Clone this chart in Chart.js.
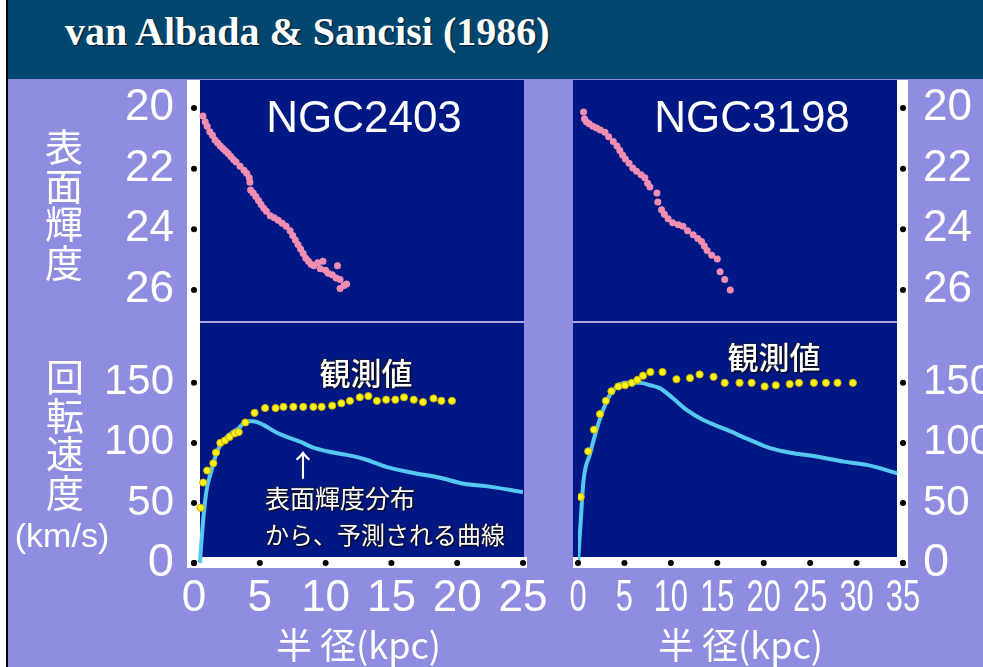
<!DOCTYPE html>
<html>
<head>
<meta charset="utf-8">
<script src="https://cdn.jsdelivr.net/npm/chart.js@4"></script>
<style>
  body { margin: 0; width: 983px; height: 667px; background: #8f8ddf; position: relative; overflow: hidden; color: #fff; }
  #titlebar { position: absolute; left: 0; top: 0; width: 983px; height: 79px; background: #00466e; }
  #titlebar span { position: absolute; left: 65px; top: 8px; font: bold 40px 'Liberation Serif', serif; white-space: nowrap; text-shadow: 1px 1px 1px #001a30; }
  #margin { position: absolute; left: 0; top: 0; width: 6px; height: 667px; background: #fff; }
  #edge { position: absolute; left: 6px; top: 0; width: 2px; height: 667px; background: #000; }
  canvas { position: absolute; left: 0; top: 0; }
  .t { position: absolute; transform: translate(-50%, -50%); white-space: nowrap; line-height: 1; }
  .v { position: absolute; transform: translateX(-50%); text-align: center; font: 38px 'Noto Sans CJK JP', sans-serif; line-height: 38.5px; }
  .jp { font-family: 'Noto Sans CJK JP', sans-serif; }
  .note { text-shadow: 1px 1px 2px #000, -1px -1px 1px #223; }
</style>
</head>
<body>
<div id="titlebar"><span>van Albada &amp; Sancisi (1986)</span></div>
<div id="margin"></div>
<div id="edge"></div>
<canvas id="lt" width="983" height="667"></canvas>
<canvas id="lb" width="983" height="667"></canvas>
<canvas id="rt" width="983" height="667"></canvas>
<canvas id="rb" width="983" height="667"></canvas>

<div class="v" style="left:64px; top:126px;">表<br>面<br>輝<br>度</div>
<div class="v" style="left:65px; top:356px;">回<br>転<br>速<br>度</div>
<div class="t" style="left:62px; top:535px; font:34px 'Liberation Sans', sans-serif;">(km/s)</div>
<div class="t" style="left:364px; top:117px; font:44px 'Liberation Sans', sans-serif;">NGC2403</div>
<div class="t" style="left:752px; top:117px; font:44px 'Liberation Sans', sans-serif;">NGC3198</div>
<div class="t jp note" style="left:366px; top:371px; font-size:31px; font-weight:500;">観測値</div>
<div class="t jp note" style="left:774px; top:355px; font-size:31px; font-weight:500;">観測値</div>
<div class="t jp" style="left:303px; top:463px; font-size:30px;">↑</div>
<div class="jp note" style="position:absolute; left:265px; top:482px; font-size:25px; line-height:30px; white-space:nowrap;">表面輝度分布</div>
<div class="jp note" style="position:absolute; left:265px; top:519px; font-size:24px; line-height:30px; white-space:nowrap;">から、予測される曲線</div>

<script>
// ---- data ----
const sbTicks = [20, 22, 24, 26];
const vTicks = [0, 50, 100, 150];
const rTicks2403 = [0, 5, 10, 15, 20, 25];
const rTicks3198 = [0, 5, 10, 15, 20, 25, 30, 35];

// NGC2403 surface brightness (mag/arcsec^2) vs radius (kpc)
const sb2403R = [0.68, 0.85, 1.0, 1.2, 1.4, 1.6, 1.8, 2.0, 2.2, 2.4, 2.6, 2.8, 3.0, 3.2, 3.5, 3.8, 4.0, 4.2, 4.25, 4.3, 4.5, 4.7, 4.9, 5.1, 5.3, 5.5, 5.8, 6.1, 6.4, 6.7, 7.0, 7.3, 7.5, 7.7, 7.9, 8.1, 8.3, 8.5, 8.7, 8.9, 9.1, 9.4, 9.6, 9.8, 10.0, 10.2, 10.5, 10.8, 10.9, 11.1, 11.1, 11.4, 11.6];
const sb2403Mu = [20.26, 20.45, 20.6, 20.78, 20.9, 21.05, 21.15, 21.25, 21.33, 21.42, 21.5, 21.6, 21.7, 21.78, 21.92, 22.05, 22.15, 22.3, 22.45, 22.7, 22.8, 22.92, 23.05, 23.18, 23.3, 23.4, 23.55, 23.62, 23.7, 23.8, 23.9, 24.05, 24.2, 24.35, 24.5, 24.65, 24.8, 24.95, 25.05, 25.15, 25.2, 25.1, 25.3, 25.05, 25.35, 25.45, 25.5, 25.6, 25.2, 25.65, 25.95, 25.85, 25.8];

// NGC3198 surface brightness
const sb3198R = [0.6, 0.7, 0.9, 1.2, 1.6, 2.0, 2.4, 2.9, 3.3, 3.8, 4.2, 4.5, 4.8, 5.1, 5.5, 5.9, 6.3, 6.8, 7.2, 7.5, 7.75, 8.5, 8.6, 9.0, 9.3, 9.7, 10.2, 10.8, 11.3, 11.8, 12.4, 12.9, 13.3, 13.6, 13.9, 14.4, 15.0, 15.3, 15.8, 16.4];
const sb3198Mu = [20.13, 20.35, 20.45, 20.52, 20.6, 20.66, 20.72, 20.8, 20.95, 21.1, 21.25, 21.4, 21.55, 21.68, 21.82, 21.98, 22.08, 22.2, 22.3, 22.48, 22.6, 22.8, 23.1, 23.35, 23.5, 23.65, 23.78, 23.85, 23.9, 24.05, 24.18, 24.3, 24.4, 24.55, 24.7, 24.85, 24.98, 25.4, 25.65, 26.0];

// NGC2403 rotation: observed (yellow) and predicted from light (cyan)
const obs2403R = [0.5, 0.7, 1.0, 1.47, 1.67, 2.0, 2.35, 2.7, 3.1, 3.4, 3.9, 4.6, 5.4, 6.2, 6.8, 7.55, 8.3, 9.07, 9.7, 10.5, 11.2, 11.85, 12.6, 13.25, 13.9, 14.6, 15.3, 15.96, 16.7, 17.4, 18.2, 18.8, 19.6];
const obs2403V = [46, 67, 77, 83, 92, 100, 102, 105, 108, 109, 117, 125, 129, 129, 130, 130, 130, 130, 130, 131, 133, 135, 138, 139, 135, 136, 136, 138, 136, 134, 137, 135, 135];
const mod2403R = [0.45, 0.5, 0.7, 0.96, 1.34, 1.7, 2.1, 2.7, 3.37, 4.0, 4.5, 5.27, 6.2, 7.05, 8.05, 9.07, 10.1, 11.6, 13.1, 14.6, 16.7, 18.7, 20.5, 22.2, 25.0];
const mod2403V = [0, 8, 36, 61, 77.5, 91, 100, 107, 112, 118, 118, 115, 109, 105, 101, 96, 93, 90, 86, 80, 75, 71, 66, 64, 59];

// NGC3198 rotation
const obs3198R = [0.29, 1.1, 1.72, 2.37, 3.0, 3.6, 4.34, 5.06, 5.8, 6.4, 7.0, 7.8, 9.1, 10.6, 12.06, 13.1, 14.6, 15.8, 17.4, 18.7, 20.1, 21.3, 22.8, 23.8, 25.4, 26.7, 27.95, 29.6];
const obs3198V = [55, 93, 111, 124, 135, 143, 147, 148, 150, 152.5, 156, 159, 159, 153, 154, 157, 155, 150, 150, 150, 147, 148, 149, 150, 150, 150, 150, 150];
const mod3198R = [0, 0.3, 0.6, 1.3, 2.0, 2.7, 3.44, 4.2, 5.2, 6.67, 7.75, 8.8, 10.26, 11.7, 13.5, 16.0, 18.5, 20.7, 23.2, 25.7, 28.6, 31.1, 34.4];
const mod3198V = [0, 36, 69, 91, 111, 127.5, 140, 147, 150, 150, 148, 145.6, 137, 127.5, 119, 111, 102.5, 95.6, 91.4, 88.6, 84.4, 81.7, 74.7];

// ---- styling ----
const NAVY = '#011884';
const WHITE = '#ffffff';
const SEP = '#a9a6df';
const PINK = '#f28db2';
const YELLOW = '#fff21a';
const CYAN = '#55c8f0';
const FONT = "'Liberation Sans', sans-serif";

// linear scale whose tick labels are squeezed sideways (the NGC3198 radius axis
// uses a condensed face in the original)
class NarrowLinearScale extends Chart.LinearScale {
  drawLabels(chartArea) {
    const squeeze = this.options.ticks.squeeze || 1;
    const ctx = this.ctx;
    this.getLabelItems(chartArea).forEach(item => {
      const o = item.options;
      ctx.save();
      ctx.translate(o.translation[0], o.translation[1]);
      ctx.scale(squeeze, 1);
      ctx.font = item.font.string;
      ctx.fillStyle = o.color;
      ctx.textAlign = o.textAlign;
      ctx.textBaseline = o.textBaseline;
      ctx.fillText(item.label, 0, item.textOffset);
      ctx.restore();
    });
  }
}
NarrowLinearScale.id = 'narrowLinear';
NarrowLinearScale.defaults = Chart.LinearScale.defaults;
Chart.register(NarrowLinearScale);

const toXY = (xs, ys) => xs.map((x, i) => ({ x: x, y: ys[i] }));

const panelPlugin = {
  id: 'panel',
  beforeDraw(chart, args, opts) {
    const ctx = chart.ctx;
    ctx.save();
    (opts.rects || []).forEach(r => {
      ctx.fillStyle = r[4];
      ctx.fillRect(r[0], r[1], r[2] - r[0], r[3] - r[1]);
    });
    ctx.restore();
  },
  afterDraw(chart, args, opts) {
    const ctx = chart.ctx;
    ctx.save();
    ctx.fillStyle = '#000';
    const dot = (x, y) => { ctx.beginPath(); ctx.arc(x, y, 3, 0, Math.PI * 2); ctx.fill(); };
    if (opts.yDotX != null) {
      const ys = chart.scales.y;
      ys.ticks.forEach(t => dot(opts.yDotX, ys.getPixelForValue(t.value)));
    }
    if (opts.xDotY != null) {
      const xs = chart.scales.x;
      xs.ticks.forEach(t => dot(xs.getPixelForValue(t.value), opts.xDotY));
    }
    ctx.restore();
  }
};

const setTicks = vals => scale => { scale.ticks = vals.map(v => ({ value: v })); };

function sbChart(id, pts, rMax, side, pad, rects, dotX) {
  return new Chart(document.getElementById(id), {
    type: 'line',
    data: {
      datasets: [{
        data: pts, showLine: false, pointRadius: 3.5, pointBorderWidth: 0,
        pointBackgroundColor: PINK
      }]
    },
    options: {
      responsive: false, animation: false, events: [],
      layout: { padding: pad, autoPadding: false },
      plugins: { legend: { display: false }, tooltip: { enabled: false }, panel: { rects: rects, yDotX: dotX } },
      scales: {
        x: { type: 'linear', min: 0, max: rMax, display: false },
        y: {
          type: 'linear', position: side, reverse: true, min: 19.075, max: 27.055,
          afterBuildTicks: setTicks(sbTicks),
          afterFit: s => { s.width = side === 'left' ? 194 : 80; },
          grid: { display: false }, border: { display: false },
          ticks: { color: WHITE, padding: 12, font: { family: FONT, size: 44 } }
        }
      }
    },
    plugins: [panelPlugin]
  });
}

function rotChart(id, obs, mod, rMax, rTicks, side, pad, rects, dotX, squeeze) {
  return new Chart(document.getElementById(id), {
    type: 'line',
    data: {
      datasets: [
        { data: obs, showLine: false, pointRadius: 3.6, pointBorderWidth: 1,
          pointBackgroundColor: YELLOW, pointBorderColor: '#c9b200' },
        { data: mod, borderColor: CYAN, borderWidth: 4, pointRadius: 0,
          cubicInterpolationMode: 'monotone' }
      ]
    },
    options: {
      responsive: false, animation: false, events: [],
      layout: { padding: pad, autoPadding: false },
      plugins: { legend: { display: false }, tooltip: { enabled: false }, panel: { rects: rects, yDotX: dotX, xDotY: 563 } },
      scales: {
        x: {
          type: 'narrowLinear', min: 0, max: rMax,
          afterBuildTicks: setTicks(rTicks),
          afterFit: s => { s.height = 104; },
          grid: { display: false }, border: { display: false },
          ticks: { color: WHITE, padding: 1, autoSkip: false, maxRotation: 0, minRotation: 0,
                   squeeze: squeeze, font: { family: FONT, size: 44 } },
          title: { display: true, text: '半 径(kpc)', color: WHITE, padding: 0,
                   font: { family: "'Noto Sans CJK JP', sans-serif", size: 36 } }
        },
        y: {
          type: 'linear', position: side, min: 0, max: 199,
          afterBuildTicks: setTicks(vTicks),
          afterFit: s => { s.width = side === 'left' ? 194 : 80; },
          grid: { display: false }, border: { display: false },
          ticks: { color: WHITE, padding: 12,
                   font: c => ({ family: FONT, size: c.tick && c.tick.value === 0 ? 47 : 42 }) }
        }
      }
    },
    plugins: [panelPlugin]
  });
}

// left column: NGC2403
sbChart('lt', toXY(sb2403R, sb2403Mu), 25, 'left',
  { left: 0, right: 460, top: 80, bottom: 345 },
  [[200, 80, 524, 321, NAVY], [200, 321, 524, 323, SEP], [187, 80, 200, 568, WHITE]], 194);
rotChart('lb', toXY(obs2403R, obs2403V), toXY(mod2403R, mod2403V), 25, rTicks2403, 'left',
  { left: 0, right: 460, top: 324, bottom: 0 },
  [[200, 323, 524, 557, NAVY], [187, 557, 527, 568, WHITE], [187, 320, 200, 568, WHITE]], 194, 1);

// right column: NGC3198
sbChart('rt', toXY(sb3198R, sb3198Mu), 35, 'right',
  { left: 578, right: 0, top: 80, bottom: 345 },
  [[573, 80, 897, 321, NAVY], [573, 321, 897, 323, SEP], [897, 80, 908, 568, WHITE]], 903);
rotChart('rb', toXY(obs3198R, obs3198V), toXY(mod3198R, mod3198V), 35, rTicks3198, 'right',
  { left: 578, right: 0, top: 324, bottom: 0 },
  [[573, 323, 897, 557, NAVY], [573, 557, 908, 568, WHITE], [897, 320, 908, 568, WHITE]], 903, 0.7);
</script>
</body>
</html>
